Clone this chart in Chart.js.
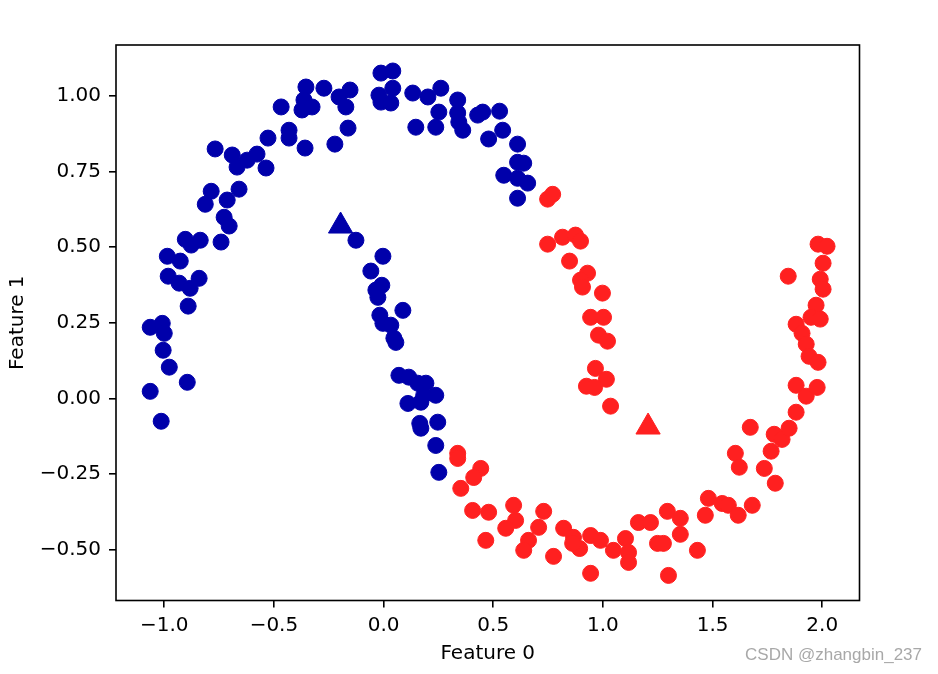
<!DOCTYPE html>
<html>
<head>
<meta charset="utf-8">
<script src="https://cdn.jsdelivr.net/npm/chart.js@4"></script>
<style>
  body { margin: 0; background: #fff; overflow: hidden; }
  canvas { display: block; }
</style>
</head>
<body>
<canvas id="graficoMoons" width="938" height="674"></canvas>
<script>
// cluster 0 (blue) points
var azulX = [-0.354, -0.272, -0.153, -0.203, -0.172, -0.363, -0.372, -0.326, -0.467, -0.431,
	-0.431, -0.527, -0.358, -0.222, -0.162, -0.768, -0.690, -0.668, -0.622, -0.577,
	-0.536, -0.786, -0.659, -0.813, -0.713, -0.727, -0.704, -0.904, -0.877, -0.836,
	-0.741, -0.986, -0.927, -0.982, -0.932, -0.882, -0.841, -0.891, -1.064, -1.009,
	-1.000, -1.005, -0.977, -0.895, -1.064, -1.014, -0.012, 0.042, -0.021, 0.042,
	-0.012, 0.033, 0.133, 0.202, 0.261, 0.147, 0.252, 0.238, 0.338, 0.338,
	0.343, 0.361, 0.429, 0.452, 0.529, 0.479, 0.543, 0.611, 0.639, 0.611,
	0.548, 0.611, 0.657, 0.611, -0.126, -0.003, -0.058, -0.008, -0.035, -0.026,
	0.088, -0.017, -0.003, 0.033, 0.056, 0.047, 0.070, 0.115, 0.156, 0.193,
	0.238, 0.111, 0.170, 0.183, 0.247, 0.170, 0.165, 0.238, 0.252];
var azulY = [1.030, 1.026, 1.020, 0.997, 0.964, 0.987, 0.954, 0.964, 0.964, 0.887,
	0.861, 0.861, 0.828, 0.841, 0.894, 0.825, 0.805, 0.765, 0.788, 0.808,
	0.762, 0.685, 0.692, 0.642, 0.656, 0.599, 0.570, 0.526, 0.507, 0.523,
	0.517, 0.470, 0.454, 0.404, 0.381, 0.364, 0.397, 0.305, 0.235, 0.248,
	0.215, 0.159, 0.103, 0.053, 0.023, -0.076, 1.076, 1.083, 1.003, 1.026,
	0.980, 0.977, 1.010, 0.997, 1.026, 0.897, 0.947, 0.897, 0.987, 0.944,
	0.914, 0.887, 0.937, 0.947, 0.950, 0.858, 0.887, 0.841, 0.778, 0.781,
	0.738, 0.728, 0.712, 0.662, 0.523, 0.470, 0.421, 0.374, 0.358, 0.334,
	0.291, 0.275, 0.248, 0.242, 0.185, 0.199, 0.076, 0.070, 0.050, 0.050,
	0.010, -0.017, -0.013, 0.010, -0.079, -0.099, -0.083, -0.156, -0.245];

// cluster 1 (red) points
var vermelhoX = [0.748, 0.771, 0.748, 0.816, 0.875, 0.898, 0.848, 0.930, 0.898, 0.907,
	0.998, 0.944, 1.003, 0.980, 1.021, 0.966, 1.016, 0.925, 0.962, 1.035,
	0.338, 0.338, 0.443, 0.411, 0.352, 0.406, 0.479, 0.593, 0.602, 0.557,
	0.466, 0.730, 0.707, 0.661, 0.639, 0.775, 0.821, 0.866, 0.894, 0.862,
	0.944, 0.989, 0.944, 1.048, 1.103, 1.117, 1.117, 1.162, 1.217, 1.249,
	1.276, 1.294, 1.353, 1.353, 1.299, 1.431, 1.467, 1.481, 1.544, 1.572,
	1.617, 1.681, 1.604, 1.622, 1.672, 1.736, 1.786, 1.767, 1.781, 1.817,
	1.849, 1.881, 1.881, 1.927, 1.977, 1.981, 2.022, 2.004, 1.991, 2.004,
	1.845, 1.972, 1.949, 1.991, 1.881, 1.908, 1.927, 1.940, 1.981];
var vermelhoY = [0.659, 0.675, 0.510, 0.533, 0.540, 0.520, 0.454, 0.414, 0.391, 0.368,
	0.348, 0.268, 0.268, 0.209, 0.189, 0.099, 0.063, 0.040, 0.036, -0.026,
	-0.182, -0.199, -0.232, -0.262, -0.298, -0.371, -0.377, -0.354, -0.404, -0.430,
	-0.470, -0.374, -0.427, -0.470, -0.503, -0.523, -0.430, -0.460, -0.497, -0.480,
	-0.454, -0.470, -0.579, -0.503, -0.464, -0.510, -0.543, -0.411, -0.411, -0.480,
	-0.480, -0.374, -0.397, -0.450, -0.586, -0.503, -0.387, -0.331, -0.348, -0.354,
	-0.387, -0.354, -0.182, -0.228, -0.096, -0.232, -0.281, -0.175, -0.119, -0.136,
	-0.099, -0.046, 0.043, 0.007, 0.036, 0.510, 0.503, 0.447, 0.394, 0.361,
	0.404, 0.308, 0.268, 0.262, 0.245, 0.215, 0.179, 0.139, 0.119];

// cluster centers
var centrosX = [-0.196, 1.206];
var centrosY = [0.57, -0.095];

var ticksX = [-1.0, -0.5, 0.0, 0.5, 1.0, 1.5, 2.0];
var ticksY = [-0.50, -0.25, 0.00, 0.25, 0.50, 0.75, 1.00];

var corAzul = '#0000aa';
var corVermelho = '#ff2020';

function pontos(xs, ys) {
	return xs.map(function(x, i) { return { x: x, y: ys[i] }; });
}

function formata(casas) {
	return function(v) { return v.toFixed(casas).replace('-', '\u2212'); };
}

var fonteEixo = { family: 'DejaVu Sans', size: 20 };

var molduraPlugin = {
	id: 'moldura',
	afterDatasetsDraw: function(chart) {
		var a = chart.chartArea, ctx = chart.ctx;
		ctx.save();
		ctx.strokeStyle = '#000';
		ctx.lineWidth = 1.6;
		ctx.strokeRect(a.left, a.top, a.right - a.left, a.bottom - a.top);
		ctx.restore();
	}
};

var marcaPlugin = {
	id: 'marca',
	afterDraw: function(chart) {
		var ctx = chart.ctx;
		ctx.save();
		ctx.font = '17px "Liberation Sans"';
		ctx.fillStyle = '#a8a8a8';
		ctx.textAlign = 'right';
		ctx.textBaseline = 'middle';
		ctx.fillText('CSDN @zhangbin_237', 922, 655);
		ctx.restore();
	}
};

var ctx = document.getElementById('graficoMoons').getContext('2d');

new Chart(ctx, {
	type: 'scatter',
	data: {
		datasets: [{
			label: 'cluster 0',
			data: pontos(azulX, azulY),
			backgroundColor: corAzul,
			borderColor: corAzul,
			borderWidth: 1,
			pointRadius: 8
		}, {
			label: 'cluster 1',
			data: pontos(vermelhoX, vermelhoY),
			backgroundColor: corVermelho,
			borderColor: corVermelho,
			borderWidth: 1,
			pointRadius: 8
		}, {
			label: 'centros',
			data: pontos(centrosX, centrosY),
			pointStyle: 'triangle',
			backgroundColor: [corAzul, corVermelho],
			borderColor: [corAzul, corVermelho],
			borderWidth: 1,
			pointRadius: 14
		}]
	},
	options: {
		responsive: false,
		devicePixelRatio: 1,
		animation: false,
		layout: { padding: { top: 45, right: 78.5, left: 0, bottom: 0 } },
		plugins: {
			legend: { display: false },
			tooltip: { enabled: false }
		},
		scales: {
			x: {
				type: 'linear',
				min: -1.22,
				max: 2.17,
				afterBuildTicks: function(scale) {
					scale.ticks = ticksX.map(function(v) { return { value: v }; });
				},
				afterFit: function(scale) { scale.height = 73.5; },
				border: { display: false },
				grid: { drawOnChartArea: false, drawTicks: true, tickLength: 7, color: '#000', lineWidth: 1.6 },
				ticks: { callback: formata(1), font: fonteEixo, color: '#000', padding: 6, maxRotation: 0 },
				title: { display: true, text: 'Feature 0', font: fonteEixo, color: '#000', padding: { top: 0, bottom: 8 } }
			},
			y: {
				type: 'linear',
				min: -0.669,
				max: 1.169,
				afterBuildTicks: function(scale) {
					scale.ticks = ticksY.map(function(v) { return { value: v }; });
				},
				afterFit: function(scale) { scale.width = 116; },
				border: { display: false },
				grid: { drawOnChartArea: false, drawTicks: true, tickLength: 7, color: '#000', lineWidth: 1.6 },
				ticks: { callback: formata(2), font: fonteEixo, color: '#000', padding: 8 },
				title: { display: true, text: 'Feature 1', font: fonteEixo, color: '#000', padding: { top: 6, bottom: 0 } }
			}
		}
	},
	plugins: [molduraPlugin, marcaPlugin]
});
</script>
</body>
</html>
